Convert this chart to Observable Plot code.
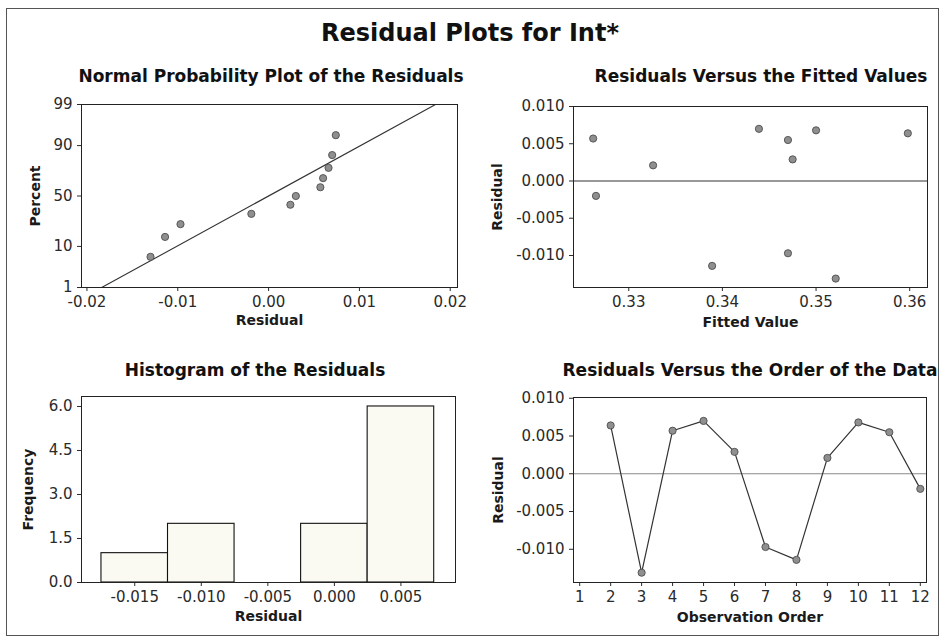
<!DOCTYPE html>
<html>
<head>
<meta charset="utf-8">
<script src="https://cdn.jsdelivr.net/npm/d3@7"></script>
<script src="https://cdn.jsdelivr.net/npm/@observablehq/plot@0.6"></script>
<style>
  body { margin: 0; background: #fff; overflow: hidden; }
  #root { position: relative; width: 942px; height: 640px; font-family: "DejaVu Sans", sans-serif; color: #111; background: #fff; overflow: hidden; }
  #border { position: absolute; left: 6px; top: 8px; width: 933px; height: 628px; border: 1.5px solid #555; box-sizing: border-box; }
  .ttl { position: absolute; transform: translate(-50%, -50%); white-space: nowrap; font-weight: bold; color: #111; }
  .main { font-size: 24px; }
  .sub { font-size: 17px; }
</style>
</head>
<body>
<div id="root"><div id="border"></div></div>
<script>
// ---------- data ----------
const mainTitle = "Residual Plots for Int*";
const panelTitles = [
  "Normal Probability Plot of the Residuals",
  "Residuals Versus the Fitted Values",
  "Histogram of the Residuals",
  "Residuals Versus the Order of the Data"
];

// observation order and residuals (observation 1 is missing)
const obsOrder  = [2, 3, 4, 5, 6, 7, 8, 9, 10, 11, 12];
const residuals = [0.0064, -0.0131, 0.0057, 0.0070, 0.0029, -0.0097, -0.0114, 0.0021, 0.0068, 0.0055, -0.0020];
const fitted    = [0.3598, 0.3521, 0.3262, 0.3439, 0.3475, 0.3470, 0.3389, 0.3326, 0.3500, 0.3470, 0.3265];

// normal probability plot points (residual, percent) as drawn
const nppResidual = [-0.0130, -0.0114, -0.0097, -0.0019, 0.0024, 0.0030, 0.0057, 0.0060, 0.0066, 0.0070, 0.0074];
const nppPercent  = [6.1, 14.9, 23.7, 32.5, 41.2, 50.0, 58.8, 67.5, 76.3, 85.1, 93.9];
const fitMean = 0.0000;
const fitSd   = 0.0079;
const fitLinePercent = [1, 99];

// histogram bin edges
const binEdges = [-0.0175, -0.0125, -0.0075, -0.0025, 0.0025, 0.0075];

// tick labels
const nppXTicks   = [-0.02, -0.01, 0.00, 0.01, 0.02];
const percentTicks = [1, 10, 50, 90, 99];
const resTicks    = [-0.010, -0.005, 0.000, 0.005, 0.010];
const fitXTicks   = [0.33, 0.34, 0.35, 0.36];
const histXTicks  = [-0.015, -0.010, -0.005, 0.000, 0.005];
const histYTicks  = [0.0, 1.5, 3.0, 4.5, 6.0];
const orderTicks  = [1, 2, 3, 4, 5, 6, 7, 8, 9, 10, 11, 12];

// ---------- helpers ----------
function qnorm(p) {
  const a=[-3.969683028665376e+01,2.209460984245205e+02,-2.759285104469687e+02,1.383577518672690e+02,-3.066479806614716e+01,2.506628277459239e+00];
  const b=[-5.447609879822406e+01,1.615858368580409e+02,-1.556989798598866e+02,6.680131188771972e+01,-1.328068155288572e+01];
  const c=[-7.784894002430293e-03,-3.223964580411365e-01,-2.400758277161838e+00,-2.549732539343734e+00,4.374664141464968e+00,2.938163982698783e+00];
  const d=[7.784695709041462e-03,3.224671290700398e-01,2.445134137142996e+00,3.754408661907416e+00];
  const pl = 0.02425, ph = 1 - pl;
  let q, r;
  if (p < pl) { q = Math.sqrt(-2*Math.log(p)); return (((((c[0]*q+c[1])*q+c[2])*q+c[3])*q+c[4])*q+c[5])/((((d[0]*q+d[1])*q+d[2])*q+d[3])*q+1); }
  if (p <= ph) { q = p - 0.5; r = q*q; return (((((a[0]*r+a[1])*r+a[2])*r+a[3])*r+a[4])*r+a[5])*q/(((((b[0]*r+b[1])*r+b[2])*r+b[3])*r+b[4])*r+1); }
  q = Math.sqrt(-2*Math.log(1-p)); return -(((((c[0]*q+c[1])*q+c[2])*q+c[3])*q+c[4])*q+c[5])/((((d[0]*q+d[1])*q+d[2])*q+d[3])*q+1);
}
const fmt = n => v => v.toFixed(n);
const root = document.getElementById("root");
function place(svg, left, top) {
  svg.style.position = "absolute";
  svg.style.left = left + "px";
  svg.style.top = top + "px";
  root.appendChild(svg);
}
function addTitle(text, cls, x, y) {
  const el = document.createElement("div");
  el.className = "ttl " + cls;
  el.style.left = x + "px";
  el.style.top = y + "px";
  el.textContent = text;
  root.appendChild(el);
}
const baseStyle = { fontFamily: "'DejaVu Sans', sans-serif", fontSize: "15px", color: "#2a2a2a", background: "transparent", overflow: "visible" };
const dotStyle = { r: 3.6, fill: "#8f8f8f", stroke: "#4d4d4d", strokeWidth: 0.9 };
function xLabel(text, dy) {
  return Plot.text([text], { text: d => d, frameAnchor: "bottom", dy, textAnchor: "middle", fontSize: 14, fontWeight: "bold", fill: "#1a1a1a" });
}
function yLabel(text, dx) {
  return Plot.text([text], { text: d => d, frameAnchor: "left", dx: -dx, rotate: -90, textAnchor: "middle", fontSize: 14, fontWeight: "bold", fill: "#1a1a1a" });
}

// ---------- titles ----------
addTitle(mainTitle, "main", 470, 33);
addTitle(panelTitles[0], "sub", 271, 76);
addTitle(panelTitles[1], "sub", 761, 76);
addTitle(panelTitles[2], "sub", 255, 370);
addTitle(panelTitles[3], "sub", 750, 370);

// ---------- 1. normal probability plot ----------
const zTicks = percentTicks.map(p => qnorm(p / 100));
const nppData = nppResidual.map((r, i) => ({ r, z: qnorm(nppPercent[i] / 100) }));
const fitLine = fitLinePercent.map(p => ({ x: fitMean + fitSd * qnorm(p / 100), z: qnorm(p / 100) }));
place(Plot.plot({
  width: 470, height: 260, marginLeft: 81, marginRight: 13, marginTop: 16, marginBottom: 61,
  style: baseStyle,
  x: { domain: [-0.0206, 0.0208], ticks: nppXTicks, tickFormat: fmt(2), tickSize: 4, label: null },
  y: { domain: [qnorm(0.01), qnorm(0.99)], ticks: zTicks, tickFormat: z => percentTicks[zTicks.indexOf(z)], tickSize: 4, label: null },
  marks: [
    Plot.line(fitLine, { x: "x", y: "z", stroke: "#333", strokeWidth: 1.1 }),
    Plot.dot(nppData, { x: "r", y: "z", ...dotStyle }),
    Plot.frame({ stroke: "#222" }),
    xLabel("Residual", 37),
    yLabel("Percent", 46)
  ]
}), 0, 88);

// ---------- 2. residuals vs fitted ----------
const fitData = fitted.map((f, i) => ({ f, r: residuals[i] }));
place(Plot.plot({
  width: 472, height: 260, marginLeft: 103, marginRight: 15, marginTop: 18, marginBottom: 61,
  style: baseStyle,
  x: { domain: [0.3241, 0.3619], ticks: fitXTicks, tickFormat: fmt(2), tickSize: 4, label: null },
  y: { domain: [-0.0143, 0.010], ticks: resTicks, tickFormat: fmt(3), tickSize: 4, label: null },
  marks: [
    Plot.ruleY([0], { stroke: "#333", strokeWidth: 1.1 }),
    Plot.dot(fitData, { x: "f", y: "r", ...dotStyle }),
    Plot.frame({ stroke: "#222" }),
    xLabel("Fitted Value", 39),
    yLabel("Residual", 76)
  ]
}), 470, 88);

// ---------- 3. histogram ----------
place(Plot.plot({
  width: 470, height: 258, marginLeft: 81, marginRight: 15, marginTop: 16, marginBottom: 56,
  style: baseStyle,
  x: { domain: [-0.0190, 0.0091], ticks: histXTicks, tickFormat: fmt(3), tickSize: 4, label: null },
  y: { domain: [0, 6.34], ticks: histYTicks, tickFormat: fmt(1), tickSize: 4, label: null },
  marks: [
    Plot.rectY(residuals, Plot.binX({ y: "count" }, { x: d => d, thresholds: binEdges, fill: "#faf9f2", stroke: "#111", strokeWidth: 1.1, inset: 0 })),
    Plot.frame({ stroke: "#222" }),
    xLabel("Residual", 38),
    yLabel("Frequency", 53)
  ]
}), 0, 380);

// ---------- 4. residuals vs order ----------
const orderData = obsOrder.map((o, i) => ({ o, r: residuals[i] }));
place(Plot.plot({
  width: 472, height: 258, marginLeft: 103, marginRight: 16, marginTop: 17, marginBottom: 56,
  style: baseStyle,
  x: { domain: [0.8, 12.2], ticks: orderTicks, tickFormat: d => String(d), tickSize: 4, label: null },
  y: { domain: [-0.0144, 0.0101], ticks: resTicks, tickFormat: fmt(3), tickSize: 4, label: null },
  marks: [
    Plot.ruleY([0], { stroke: "#8a8a8a", strokeWidth: 1.2 }),
    Plot.line(orderData, { x: "o", y: "r", stroke: "#333", strokeWidth: 1.2 }),
    Plot.dot(orderData, { x: "o", y: "r", ...dotStyle }),
    Plot.frame({ stroke: "#222" }),
    xLabel("Observation Order", 39),
    yLabel("Residual", 75)
  ]
}), 470, 380);
</script>
</body>
</html>
